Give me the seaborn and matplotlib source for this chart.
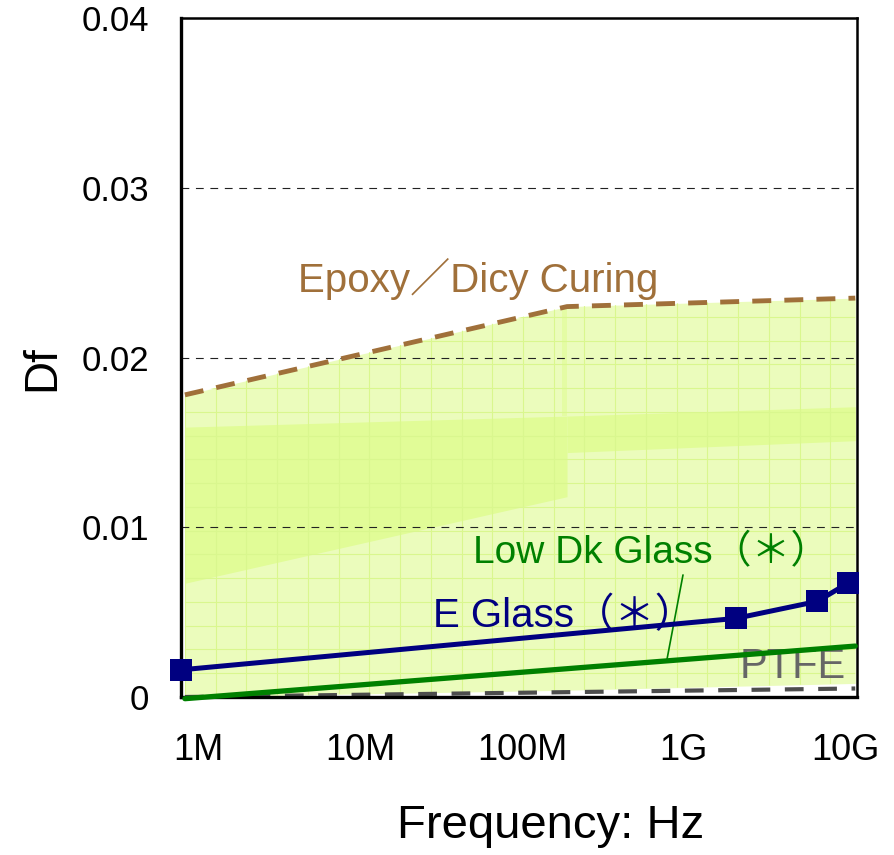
import numpy as np
import pandas as pd
import matplotlib
matplotlib.use("Agg")
import matplotlib.pyplot as plt
from matplotlib.ticker import FixedLocator, FixedFormatter, LogLocator, NullFormatter
import seaborn as sns

# ---------------- data ----------------
# Epoxy/Dicy curing upper boundary (dashed brown)
epoxy_freq = [8.25e5, 1.9e8, 1.15e10]
epoxy_df = [0.0178, 0.0230, 0.0235]
# lower edge of the shaded Epoxy region
epoxy_floor = [0.0, 0.0004, 0.0008]

# darker band inside the region (two segments)
band1_freq = [8.25e5, 1.9e8]
band1_top = [0.0159, 0.01655]
band1_bot = [0.0067, 0.0118]
band2_freq = [1.9e8, 1.15e10]
band2_top = [0.01655, 0.0171]
band2_bot = [0.0144, 0.0151]

# E Glass (navy, square markers)
eglass_freq = [7.8e5, 2.1e9, 6.67e9, 1.035e10]
eglass_df = [0.0016, 0.00463, 0.00563, 0.0067]

# Low Dk Glass (green)
lowdk_freq = [8.25e5, 1.15e10]
lowdk_df = [-0.0001, 0.0030]

# PTFE (dark gray dashed)
ptfe_freq = [8.25e5, 1.15e10]
ptfe_df = [0.0, 0.0005]

xtick_vals = [1e6, 1e7, 1e8, 1e9, 1e10]
xtick_labels = ["1M", "10M", "100M", "1G", "10G"]
ytick_vals = [0.0, 0.01, 0.02, 0.03, 0.04]
ytick_labels = ["0", "0.01", "0.02", "0.03", "0.04"]

# ---------------- style ----------------
sns.set_style("white")
plt.rcParams["font.family"] = ["Liberation Sans", "Noto Sans CJK JP", "DejaVu Sans"]
plt.rcParams.update({"text.color": "black", "axes.labelcolor": "black",
                     "xtick.color": "black", "ytick.color": "black"})

BROWN = "#a0703a"
NAVY = "#000080"
GREEN = "#008000"
GRAY_TXT = "#666666"
GRAY_LINE = "#4d4d4d"
FILL_LIGHT = "#ebfcbc"
FILL_BAND = "#e1fc97"
FAINT = "#d9f78e"

fig = plt.figure(figsize=(8.95, 8.55), dpi=100)
ax = fig.add_axes([0.2022, 0.1848, 0.7553, 0.7941])
ax.set_xscale("log")
xmin, xmax = 7.8e5, 1.178e10
ax.set_xlim(xmin, xmax)
ax.set_ylim(0, 0.04)

# shaded region
poly = ax.fill_between(epoxy_freq, epoxy_floor, epoxy_df, color=FILL_LIGHT, lw=0, zorder=1)
ax.fill_between(band1_freq, band1_bot, band1_top, color=FILL_BAND, lw=0, zorder=1.1)
ax.fill_between(band2_freq, band2_bot, band2_top, color=FILL_BAND, lw=0, zorder=1.1)
# thin overlap strip at the knee
ax.fill_between([epoxy_freq[1] / 1.08, epoxy_freq[1]], [band1_top[1], band1_top[1]],
                [epoxy_df[1] - 0.0001, epoxy_df[1] - 0.0001], color="#e4fca4", lw=0, zorder=1.05)
ax.fill_between([epoxy_freq[1] / 1.08, epoxy_freq[1]], [band1_bot[1], band1_bot[1]],
                [band2_bot[0], band2_bot[0]], color="#e4fca4", lw=0, zorder=1.05)

# faint texture grid inside the shaded region (style only)
clip_path = poly.get_paths()[0]
for lx in np.arange(np.log10(8.25e5), 10.1, 0.19):
    ln = ax.axvline(10 ** lx, color=FAINT, lw=0.8, zorder=1.2)
    ln.set_clip_path(clip_path, ax.transData)
for ly in np.arange(0.0, 0.024, 0.0014):
    ln = ax.axhline(ly, color=FAINT, lw=0.8, zorder=1.2)
    ln.set_clip_path(clip_path, ax.transData)

# horizontal dashed gridlines
for gy in ytick_vals[1:-1]:
    ax.axhline(gy, color="#222222", lw=0.8, linestyle=(0, (7, 6)), zorder=1.5)

df_ep = pd.DataFrame({"f": epoxy_freq, "df": epoxy_df})
df_eg = pd.DataFrame({"f": eglass_freq, "df": eglass_df})
df_ld = pd.DataFrame({"f": lowdk_freq, "df": lowdk_df})
df_pt = pd.DataFrame({"f": ptfe_freq, "df": ptfe_df})

sns.lineplot(data=df_pt, x="f", y="df", ax=ax, color=GRAY_LINE, lw=3.0,
             linestyle=(0, (4.5, 3.5)), estimator=None, legend=False, zorder=2, clip_on=False)
sns.lineplot(data=df_ep, x="f", y="df", ax=ax, color=BROWN, lw=3.5,
             linestyle=(0, (3.9, 2.7)), estimator=None, legend=False, zorder=2)
sns.lineplot(data=df_ld, x="f", y="df", ax=ax, color=GREEN, lw=3.8,
             estimator=None, legend=False, zorder=3, clip_on=False)
sns.lineplot(data=df_eg, x="f", y="df", ax=ax, color=NAVY, lw=3.6, marker="s",
             markersize=16, markeredgewidth=0, estimator=None, legend=False,
             zorder=4, clip_on=False)

# annotations
ax.text(4.1e6, 0.02386, "Epoxy／Dicy Curing", color=BROWN, fontsize=29, va="baseline", ha="left")
ax.text(5.0e7, 0.00789, "Low Dk Glass（＊）", color=GREEN, fontsize=28, va="baseline", ha="left")
ax.text(2.8e7, 0.00412, "E Glass（＊）", color=NAVY, fontsize=29, va="baseline", ha="left")
ax.text(2.23e9, 0.00112, "PTFE", color=GRAY_TXT, fontsize=30, va="baseline", ha="left", zorder=2.2)
ax.plot([9.9e8, 7.87e8], [0.00719, 0.00218], color=GREEN, lw=1.2, zorder=3)

# axes styling
ax.xaxis.set_major_locator(FixedLocator(xtick_vals))
ax.xaxis.set_major_formatter(FixedFormatter(xtick_labels))
ax.xaxis.set_minor_locator(LogLocator(base=10, subs=np.arange(2, 10)))
ax.xaxis.set_minor_formatter(NullFormatter())
ax.yaxis.set_major_locator(FixedLocator(ytick_vals))
ax.yaxis.set_major_formatter(FixedFormatter(ytick_labels))
ax.yaxis.set_minor_locator(FixedLocator([0.005, 0.015, 0.025, 0.035]))

ax.tick_params(axis="x", which="major", direction="in", length=9, width=1.5,
               labelsize=26, pad=26)
ax.tick_params(axis="x", which="minor", direction="in", length=6, width=1.3)
ax.tick_params(axis="y", which="both", direction="in", length=9, width=1.8,
               labelsize=25, pad=23)
ax.tick_params(top=False, right=False, which="both")

for side, lw in {"left": 2.4, "bottom": 2.4, "top": 1.8, "right": 1.8}.items():
    ax.spines[side].set_visible(True)
    ax.spines[side].set_color("black")
    ax.spines[side].set_linewidth(lw)

ax.set_xlabel("Frequency: Hz", fontsize=34)
ax.set_ylabel("Df", fontsize=33)
ax.xaxis.set_label_coords(0.547, -0.158)
ax.yaxis.set_label_coords(-0.172, 0.484)
ax.grid(False)

fig.savefig("out.png", dpi=100)
